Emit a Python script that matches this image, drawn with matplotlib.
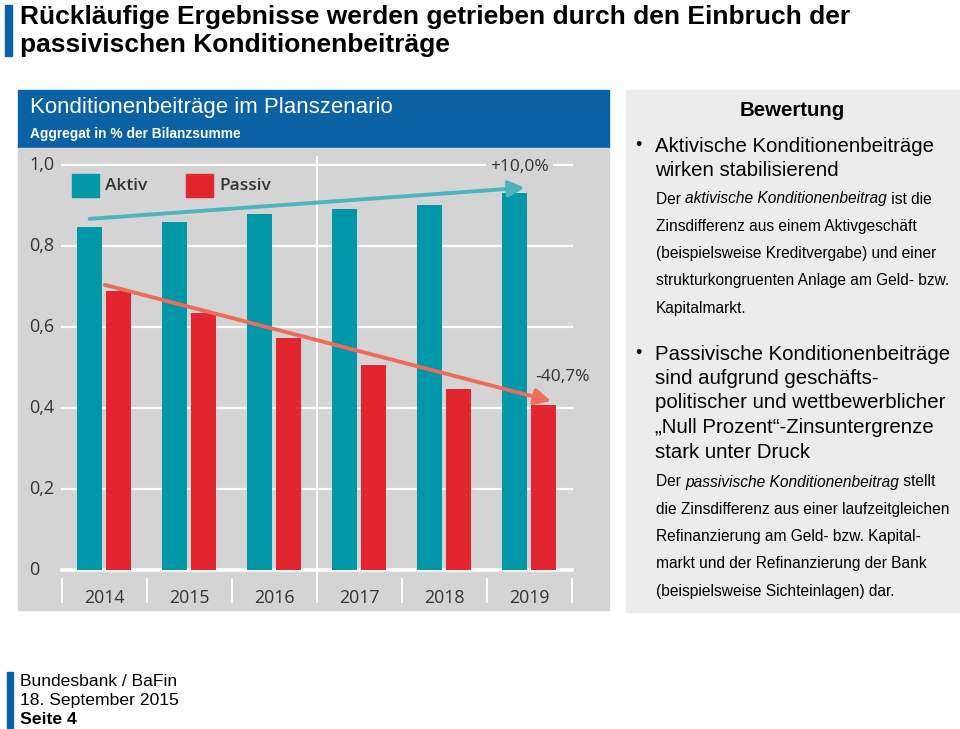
import matplotlib
matplotlib.use("Agg")
import matplotlib.pyplot as plt
import matplotlib.transforms as mtransforms
from matplotlib.patches import Rectangle
import numpy as np

# Daten
jahre = ["2014", "2015", "2016", "2017", "2018", "2019"]
aktiv = [0.847, 0.859, 0.879, 0.891, 0.901, 0.931]
passiv = [0.689, 0.635, 0.572, 0.506, 0.446, 0.407]
y_ticks = [0, 0.2, 0.4, 0.6, 0.8, 1.0]
y_labels = ["0", "0,2", "0,4", "0,6", "0,8", "1,0"]
label_aktiv = "+10,0%"
label_passiv = "-40,7%"

W, H = 960, 729
TEAL = "#0097a9"
RED = "#e2252f"
BLUE = "#0a62a5"
GRAU = "#d4d4d4"
TXT = "#333333"
CHART_FONT = ["Open Sans", "DejaVu Sans"]
ARIAL = ["Liberation Sans", "DejaVu Sans"]


def px(x, y):
    return x / W, 1 - y / H


fig = plt.figure(figsize=(W / 100, H / 100), dpi=100)
fig.patch.set_facecolor("white")

# Titel
fig.patches.append(Rectangle(px(5, 56), 7 / W, 51 / H, transform=fig.transFigure,
                             color=BLUE, zorder=0))
fig.text(*px(20, 17), "Rückläufige Ergebnisse werden getrieben durch den Einbruch der",
         family=ARIAL, weight="bold", fontsize=19, va="center", color="black")
fig.text(*px(20, 45), "passivischen Konditionenbeiträge",
         family=ARIAL, weight="bold", fontsize=19, va="center", color="black")

# Kopf des Diagramms
fig.patches.append(Rectangle(px(18, 148), 591 / W, 58 / H, transform=fig.transFigure,
                             color=BLUE, zorder=0))
fig.patches.append(Rectangle(px(18, 610), 591 / W, 462 / H, transform=fig.transFigure,
                             color=GRAU, zorder=0))
fig.text(*px(30, 108), "Konditionenbeiträge im Planszenario", family=ARIAL,
         fontsize=16, color="white", va="center")
fig.text(*px(30, 134), "Aggregat in % der Bilanzsumme", family=ARIAL,
         fontsize=9.9, weight="bold", color="white", va="center")

# Achse
ax = fig.add_axes([61.5 / W, (H - 570) / H, 510 / W, 405 / H])
ax.set_zorder(2)
ax.patch.set_visible(False)
ax.set_xlim(-0.5, 5.5)
ax.set_ylim(0, 1.0)
ax.axis("off")

x = np.arange(len(jahre))
bw = 0.295
for t in y_ticks[1:]:
    ax.plot([-0.5, 5.5], [t, t], color="white", lw=1.6, zorder=1, clip_on=False)
ax.plot([-0.5, 5.5], [0, 0], color="white", lw=2.6, zorder=1, clip_on=False)
ax.plot([2.5, 2.5], [-0.075, 1.02], color="white", lw=1.4, zorder=1, clip_on=False)
for b in np.arange(-0.5, 6.0, 1.0):
    ax.plot([b, b], [-0.022, -0.079], color="white", lw=1.4, zorder=1, clip_on=False)

ax.bar(x - 0.17, aktiv, bw, color=TEAL, zorder=2)
ax.bar(x + 0.17, passiv, bw, color=RED, zorder=2)

for xi, j in zip(x, jahre):
    ax.text(xi, -0.068, j, ha="center", va="center", fontsize=12.8, color=TXT,
            family=CHART_FONT, clip_on=False)

tr = mtransforms.blended_transform_factory(fig.transFigure, ax.transData)
for t, l in zip(y_ticks, y_labels):
    fig.text(29 / W, t, l, transform=tr, ha="left", va="center", fontsize=13,
             color=TXT, family=CHART_FONT)

# Legende
fig.patches.append(Rectangle(px(72, 197), 27 / W, 23 / H, transform=fig.transFigure,
                             color=TEAL, zorder=3))
fig.text(*px(105, 186), "Aktiv", fontsize=12.5, weight="semibold", color=TXT,
         family=CHART_FONT, va="center")
fig.patches.append(Rectangle(px(186, 197), 27 / W, 23 / H, transform=fig.transFigure,
                             color=RED, zorder=3))
fig.text(*px(219, 186), "Passiv", fontsize=12.5, weight="semibold", color=TXT,
         family=CHART_FONT, va="center")

# Trendpfeile
ax.annotate("", xy=(4.95, aktiv[-1] + 0.013), xytext=(-0.17, aktiv[0] + 0.02),
            arrowprops=dict(arrowstyle="-|>", color="#4db3be", lw=2.8,
                            mutation_scale=24, shrinkA=0, shrinkB=0), zorder=4)
ax.annotate("", xy=(5.26, passiv[-1] + 0.01), xytext=(0.01, passiv[0] + 0.015),
            arrowprops=dict(arrowstyle="-|>", color="#ef6b5c", lw=2.8,
                            mutation_scale=24, shrinkA=0, shrinkB=0), zorder=4)
ax.text(4.89, 0.995, label_aktiv, ha="center", va="center", fontsize=12.5, color=TXT,
        family=CHART_FONT, zorder=5, clip_on=False,
        bbox=dict(boxstyle="square,pad=0.25", fc=GRAU, ec="none"))
ax.text(5.4, 0.477, label_passiv, ha="center", va="center", fontsize=12.5, color=TXT,
        family=CHART_FONT, zorder=5, clip_on=False)

# Bewertung rechts
fig.patches.append(Rectangle(px(626, 612), 333 / W, 522 / H, transform=fig.transFigure,
                             color="#ececec", zorder=0))
fig.text(*px(792, 111), "Bewertung", family=ARIAL, weight="bold", fontsize=14.7,
         ha="center", va="center")

renderer = fig.canvas.get_renderer()


def zeile(xp, yp, teile, size):
    # teile: Liste aus (text, stil)
    xx = xp
    for s, stil in teile:
        t = fig.text(*px(xx, yp), s, family=ARIAL, fontsize=size, style=stil,
                     va="center", ha="left", color="black")
        xx += t.get_window_extent(renderer).width


bullet1 = ["Aktivische Konditionenbeiträge", "wirken stabilisierend"]
text1 = [[("Der ", "normal"), ("aktivische Konditionenbeitrag", "italic"), (" ist die", "normal")],
         [("Zinsdifferenz aus einem Aktivgeschäft", "normal")],
         [("(beispielsweise Kreditvergabe) und einer", "normal")],
         [("strukturkongruenten Anlage am Geld- bzw.", "normal")],
         [("Kapitalmarkt.", "normal")]]
bullet2 = ["Passivische Konditionenbeiträge", "sind aufgrund geschäfts-",
           "politischer und wettbewerblicher", "„Null Prozent“-Zinsuntergrenze",
           "stark unter Druck"]
text2 = [[("Der ", "normal"), ("passivische Konditionenbeitrag", "italic"), (" stellt", "normal")],
         [("die Zinsdifferenz aus einer laufzeitgleichen", "normal")],
         [("Refinanzierung am Geld- bzw. Kapital-", "normal")],
         [("markt und der Refinanzierung der Bank", "normal")],
         [("(beispielsweise Sichteinlagen) dar.", "normal")]]

fig.text(*px(635, 146), "•", family=ARIAL, fontsize=13, va="center")
for i, s in enumerate(bullet1):
    fig.text(*px(655, 146 + i * 24.5), s, family=ARIAL, fontsize=14.7, va="center")
for i, tl in enumerate(text1):
    zeile(656, 199 + i * 27.3, tl, 11.2)

fig.text(*px(635, 354), "•", family=ARIAL, fontsize=13, va="center")
for i, s in enumerate(bullet2):
    fig.text(*px(655, 354 + i * 24.5), s, family=ARIAL, fontsize=14.7, va="center")
for i, tl in enumerate(text2):
    zeile(656, 482 + i * 27.3, tl, 11.2)

# Fusszeile
fig.patches.append(Rectangle(px(7, 728), 6 / W, 56 / H, transform=fig.transFigure,
                             color=BLUE, zorder=0))
fig.text(*px(20, 682), "Bundesbank / BaFin", family=ARIAL, fontsize=12.6, va="center")
fig.text(*px(20, 701), "18. September 2015", family=ARIAL, fontsize=12.6, va="center")
fig.text(*px(20, 720), "Seite 4", family=ARIAL, fontsize=12.6, weight="bold", va="center")

fig.savefig("out.png", dpi=100)
